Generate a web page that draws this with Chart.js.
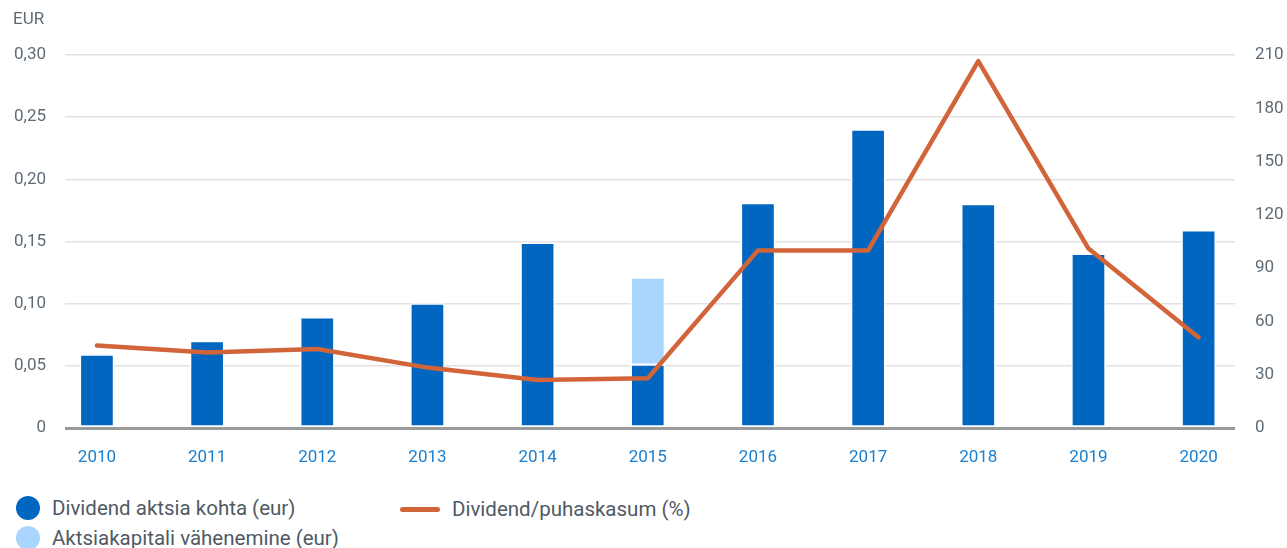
<!DOCTYPE html>
<html>
<head>
<meta charset="utf-8">
<script src="https://cdn.jsdelivr.net/npm/chart.js@4"></script>
<style>
  html, body { margin: 0; padding: 0; background: #fff; }
  body { width: 1287px; height: 548px; position: relative; overflow: hidden; font-family: Roboto, sans-serif; }
  #wrap { position: absolute; left: 0; top: 0; width: 1287px; height: 480px; }
  #eur { position: absolute; left: 13px; top: 8px; font-size: 17px; color: #5f6b75; }
  .leg { position: absolute; font-size: 20.5px; color: #4f5a64; white-space: nowrap; line-height: 24px; }
  .dot { position: absolute; width: 24px; height: 24px; border-radius: 50%; }
  .ln { position: absolute; width: 40px; height: 5px; border-radius: 3px; background: #d2643a; }
</style>
</head>
<body>
<div id="wrap"><canvas id="c" width="1287" height="480"></canvas></div>
<div id="eur">EUR</div>
<div class="dot" style="left:16px; top:496px; background:#0066bf;"></div>
<div class="leg" style="left:52px; top:496px;">Dividend aktsia kohta (eur)</div>
<div class="dot" style="left:16px; top:526px; background:#a9d5ff;"></div>
<div class="leg" style="left:52px; top:526px;">Aktsiakapitali vähenemine (eur)</div>
<div class="ln" style="left:400px; top:507px;"></div>
<div class="leg" style="left:452px; top:497px;">Dividend/puhaskasum (%)</div>
<script>
const years = ['2010','2011','2012','2013','2014','2015','2016','2017','2018','2019','2020'];
const dividend = [0.059, 0.070, 0.089, 0.100, 0.149, 0.051, 0.181, 0.240, 0.180, 0.140, 0.159];
const reduction = [0, 0, 0, 0, 0, 0.070, 0, 0, 0, 0, 0];
const payout = [46.5, 42.5, 44.5, 34, 27, 28, 100, 100, 206.5, 101, 51];
const leftTicks = [0, 0.05, 0.10, 0.15, 0.20, 0.25, 0.30];
const rightTicks = [0, 30, 60, 90, 120, 150, 180, 210];

const toXY = arr => arr.map((v, i) => ({ x: i, y: v }));
const tickFont = { family: 'Roboto', size: 17 };

new Chart(document.getElementById('c'), {
  data: {
    datasets: [
      {
        type: 'line', label: 'Dividend/puhaskasum (%)', data: toXY(payout), yAxisID: 'y1',
        borderColor: '#d2643a', borderWidth: 4.5, pointRadius: 0, tension: 0, order: 0,
        borderCapStyle: 'round', borderJoinStyle: 'round'
      },
      {
        type: 'bar', label: 'Dividend aktsia kohta (eur)', data: toXY(dividend), yAxisID: 'y',
        backgroundColor: '#0066bf', borderColor: '#ffffff', borderWidth: 1.5, borderSkipped: false,
        barThickness: 34, stack: 's', order: 1
      },
      {
        type: 'bar', label: 'Aktsiakapitali vähenemine (eur)', data: toXY(reduction), yAxisID: 'y',
        backgroundColor: '#a9d5ff', borderColor: '#ffffff', borderWidth: 1.5, borderSkipped: false,
        barThickness: 34, stack: 's', order: 1
      }
    ]
  },
  options: {
    responsive: false,
    animation: false,
    layout: { padding: { top: 55, bottom: 0, left: 0, right: 0 } },
    plugins: { legend: { display: false }, tooltip: { enabled: false } },
    scales: {
      x: {
        type: 'linear', min: -0.29, max: 10.33, offset: false,
        grid: { display: false }, border: { display: false },
        afterBuildTicks: s => { s.ticks = years.map((y, i) => ({ value: i })); },
        afterFit: s => { s.height = 52; },
        ticks: { font: tickFont, color: '#1a80cf', padding: 12, maxRotation: 0, autoSkip: false,
                 callback: v => years[v] }
      },
      y: {
        position: 'left', min: 0, max: 0.30, stacked: true,
        afterBuildTicks: s => { s.ticks = leftTicks.map(v => ({ value: v })); },
        afterFit: s => { s.width = 65; },
        border: { display: false },
        grid: {
          drawTicks: false,
          color: c => c.tick && c.tick.value === 0 ? '#9a9a9a' : '#e2e2e2',
          lineWidth: c => c.tick && c.tick.value === 0 ? 3 : 1.5
        },
        ticks: { font: tickFont, color: '#5f6b75', padding: 19,
                 callback: v => v === 0 ? '0' : v.toFixed(2).replace('.', ',') }
      },
      y1: {
        position: 'right', min: 0, max: 210,
        afterBuildTicks: s => { s.ticks = rightTicks.map(v => ({ value: v })); },
        afterFit: s => { s.width = 52; },
        border: { display: false },
        grid: { display: false, drawTicks: false },
        ticks: { font: tickFont, color: '#5f6b75', padding: 20 }
      }
    }
  }
});
</script>
</body>
</html>
